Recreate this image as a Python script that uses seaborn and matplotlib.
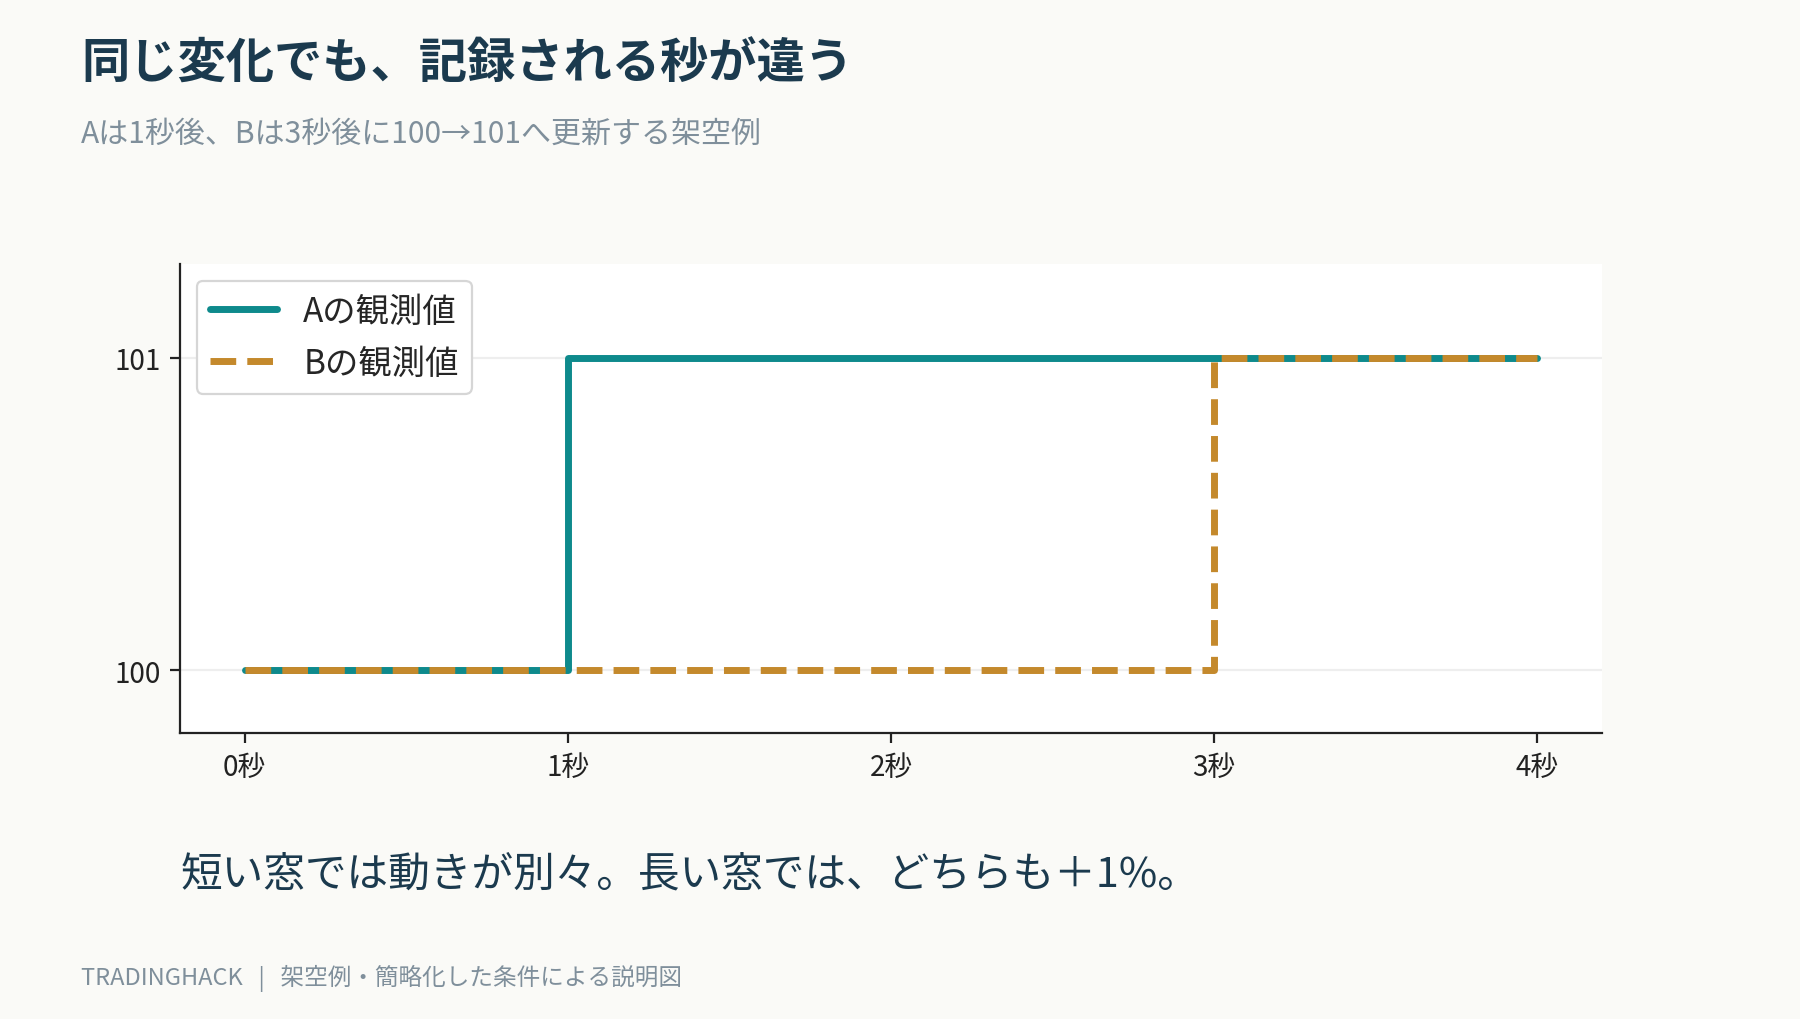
import pandas as pd
import matplotlib.pyplot as plt
import seaborn as sns

# data
seconds = [0, 1, 2, 3, 4]
values_a = [100, 101, 101, 101, 101]
values_b = [100, 100, 100, 101, 101]
x_labels = ['0秒', '1秒', '2秒', '3秒', '4秒']
y_ticks = [100, 101]
label_a = 'Aの観測値'
label_b = 'Bの観測値'

title = '同じ変化でも、記録される秒が違う'
subtitle = 'Aは1秒後、Bは3秒後に100→101へ更新する架空例'
note = '短い窓では動きが別々。長い窓では、どちらも＋1%。'
footer = 'TRADINGHACK   |   架空例・簡略化した条件による説明図'

sns.set_style('white')
plt.rcParams['font.family'] = ['Noto Sans CJK JP', 'DejaVu Sans']

df = pd.DataFrame({'t': seconds, 'a': values_a, 'b': values_b})

fig = plt.figure(figsize=(9, 5.1), dpi=200, facecolor='#fafaf7')
ax = fig.add_axes([0.1, 0.2804, 0.79, 0.4598])
ax.set_facecolor('white')

sns.lineplot(data=df, x='t', y='a', ax=ax, color='#0e8a8c', linewidth=2.5,
             drawstyle='steps-post', label=label_a)
sns.lineplot(data=df, x='t', y='b', ax=ax, color='#c4892c', linewidth=2.5,
             linestyle='--', drawstyle='steps-post', label=label_b)

ax.set_xlim(-0.2, 4.2)
ax.set_ylim(99.8, 101.3)
ax.set_xticks(seconds)
ax.set_xticklabels(x_labels)
ax.set_yticks(y_ticks)
ax.set_yticklabels([str(v) for v in y_ticks])
ax.set_xlabel('')
ax.set_ylabel('')
ax.tick_params(axis='both', labelsize=10, length=3.5, width=0.8, colors='#222222',
               direction='out', bottom=True, left=True)
ax.grid(axis='y', color='#eeeeee', linewidth=0.8)
ax.set_axisbelow(True)
for side in ['top', 'right']:
    ax.spines[side].set_visible(False)
for side in ['left', 'bottom']:
    ax.spines[side].set_color('#222222')
    ax.spines[side].set_linewidth(0.8)

leg = ax.legend(loc='upper left', fontsize=12, frameon=True, fancybox=True,
                framealpha=1, edgecolor='#d6d6d6', facecolor='white')
leg.get_frame().set_linewidth(0.8)

fig.text(0.045, 0.937, title, fontsize=17.4, fontweight='bold', color='#1b3a4e',
         ha='left', va='center')
fig.text(0.045, 0.868, subtitle, fontsize=10.8, color='#7f8f9b', ha='left', va='center')
fig.text(0.1006, 0.142, note, fontsize=15, color='#1b3a4e', ha='left', va='center')
fig.text(0.045, 0.041, footer, fontsize=8.5, color='#7f8f9b', ha='left', va='center')

fig.savefig('out.png', dpi=200, facecolor=fig.get_facecolor())
plt.close(fig)
